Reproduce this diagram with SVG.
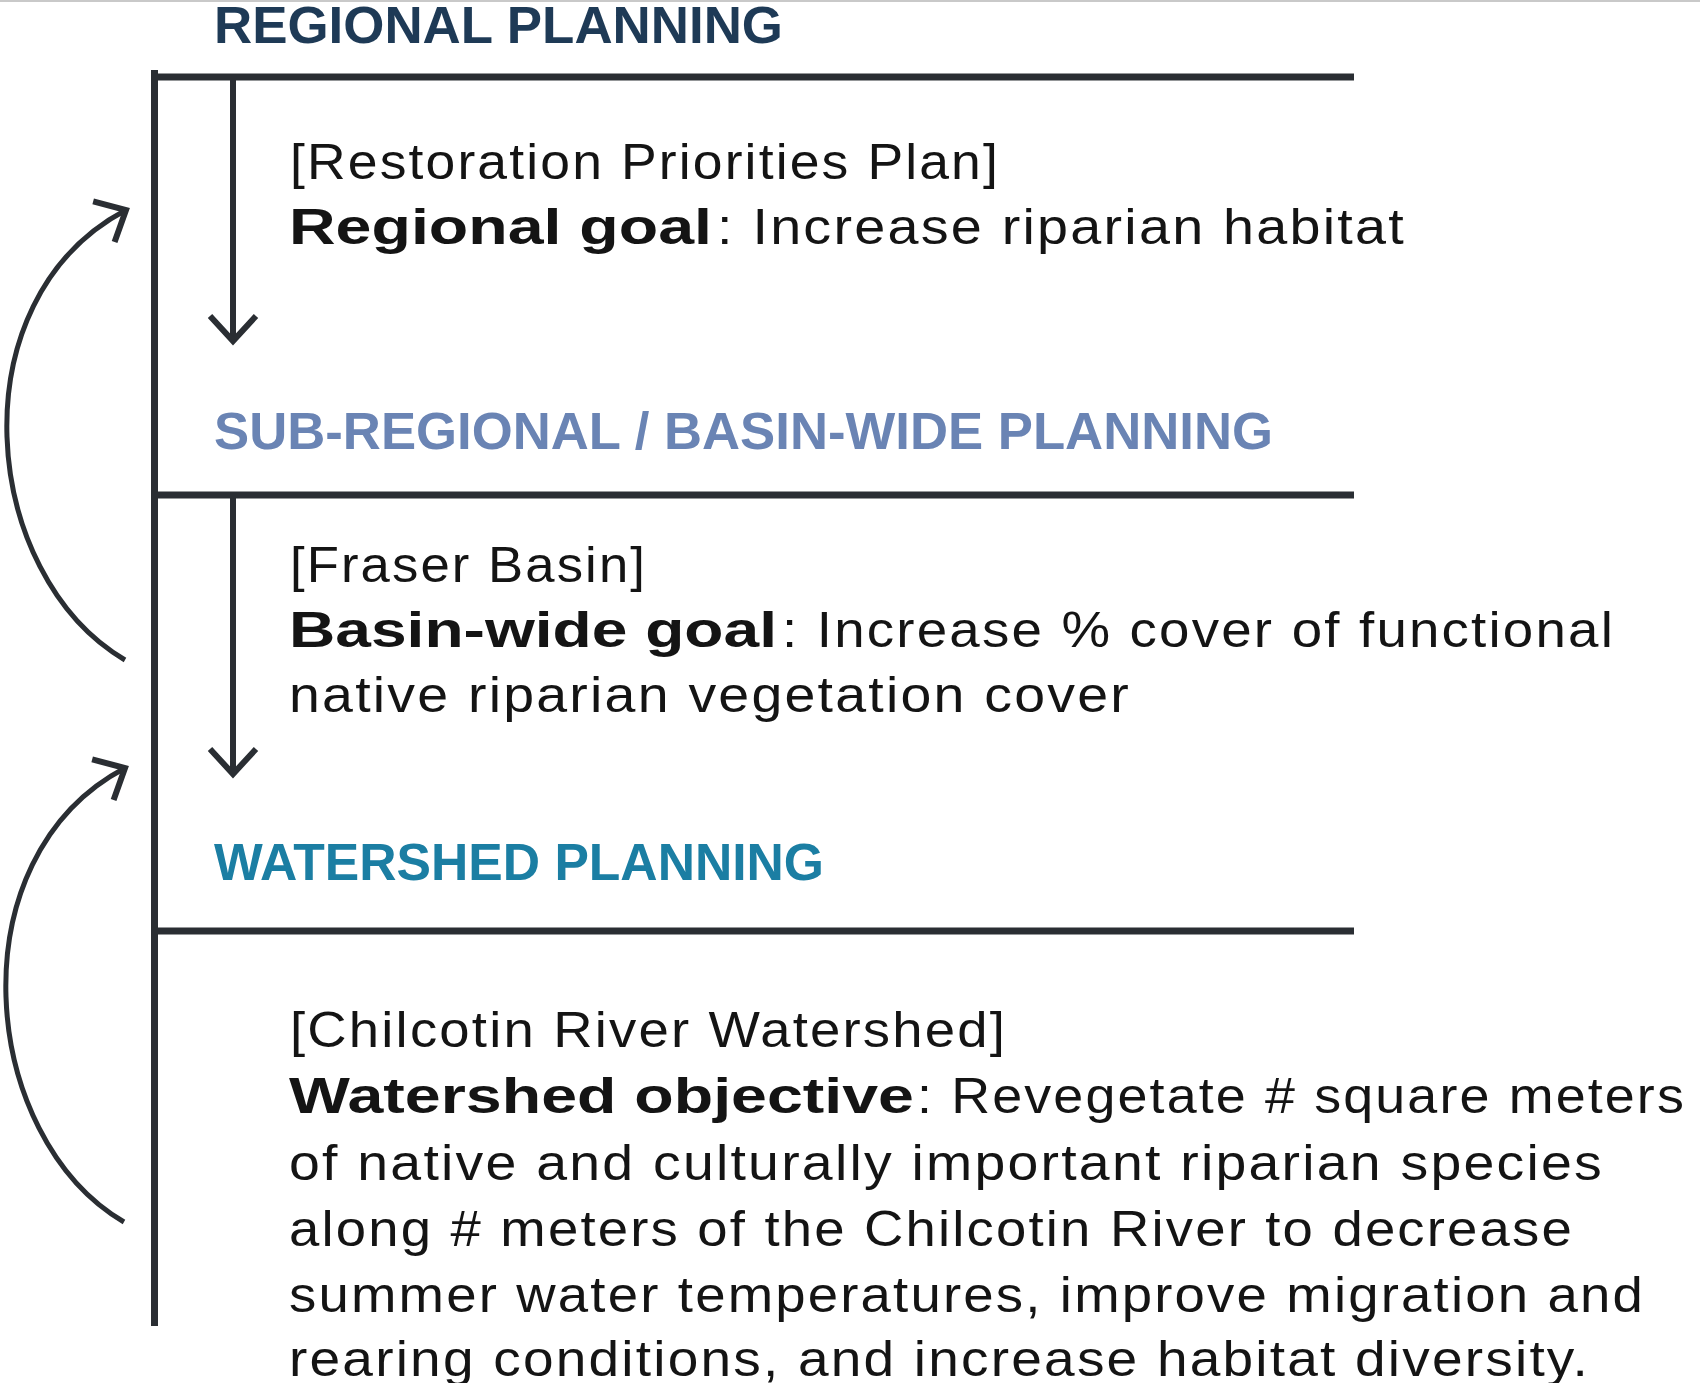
<svg xmlns="http://www.w3.org/2000/svg" width="1700" height="1383" viewBox="0 0 1700 1383">
  <style>
    .hdr { font-family: "Liberation Sans", Arial, sans-serif; font-weight: bold; font-size: 51px; }
    .body { font-family: "Liberation Sans", Arial, sans-serif; font-size: 50px; fill: #141414; letter-spacing: 2px; }
    .b { font-weight: bold; letter-spacing: 0px; }
    .rule { stroke: #2a2e33; stroke-width: 7; fill: none; }
    .conn { stroke: #2a2e33; fill: none; }
  </style>
  <defs>
    <marker id="ah" markerUnits="userSpaceOnUse" markerWidth="60" markerHeight="60" refX="0" refY="0" orient="auto" overflow="visible">
      <path d="M-25,-23 L0,0 L-25,23" fill="none" stroke="#2a2e33" stroke-width="6"/>
    </marker>
  </defs>
  <rect x="0" y="0" width="1700" height="1383" fill="#ffffff"/>
  <rect x="0" y="0" width="1700" height="2" fill="#c9c9c9"/>

  <g id="frame">
    <line class="rule" x1="154.5" y1="70" x2="154.5" y2="1326"/>
    <line class="rule" x1="151" y1="77" x2="1354" y2="77"/>
    <line class="rule" x1="151" y1="495" x2="1354" y2="495"/>
    <line class="rule" x1="151" y1="931" x2="1354" y2="931"/>
  </g>

  <g id="regional">
    <text class="hdr" x="214" y="43" textLength="569" lengthAdjust="spacingAndGlyphs" fill="#1e3a56">REGIONAL PLANNING</text>
    <text class="body" x="290" y="179" textLength="710" lengthAdjust="spacingAndGlyphs">[Restoration Priorities Plan]</text>
    <text class="body b" x="289" y="244" textLength="423" lengthAdjust="spacingAndGlyphs">Regional goal</text>
    <text class="body" x="717" y="244" textLength="689" lengthAdjust="spacingAndGlyphs">: Increase riparian habitat</text>
  </g>

  <g id="subregional">
    <text class="hdr" x="214" y="449" textLength="1059" lengthAdjust="spacingAndGlyphs" fill="#6a84b4">SUB-REGIONAL / BASIN-WIDE PLANNING</text>
    <text class="body" x="290" y="582" textLength="357" lengthAdjust="spacingAndGlyphs">[Fraser Basin]</text>
    <text class="body b" x="289" y="647" textLength="488" lengthAdjust="spacingAndGlyphs">Basin-wide goal</text>
    <text class="body" x="782" y="647" textLength="833" lengthAdjust="spacingAndGlyphs">: Increase % cover of functional</text>
    <text class="body" x="289" y="712" textLength="842" lengthAdjust="spacingAndGlyphs">native riparian vegetation cover</text>
  </g>

  <g id="watershed">
    <text class="hdr" x="214" y="880" textLength="610" lengthAdjust="spacingAndGlyphs" fill="#1b7ea3">WATERSHED PLANNING</text>
    <text class="body" x="290" y="1047" textLength="717" lengthAdjust="spacingAndGlyphs">[Chilcotin River Watershed]</text>
    <text class="body b" x="289" y="1113" textLength="625" lengthAdjust="spacingAndGlyphs">Watershed objective</text>
    <text class="body" x="917" y="1113" textLength="769" lengthAdjust="spacingAndGlyphs">: Revegetate # square meters</text>
    <text class="body" x="289" y="1180" textLength="1315" lengthAdjust="spacingAndGlyphs">of native and culturally important riparian species</text>
    <text class="body" x="289" y="1246" textLength="1285" lengthAdjust="spacingAndGlyphs">along # meters of the Chilcotin River to decrease</text>
    <text class="body" x="289" y="1312" textLength="1356" lengthAdjust="spacingAndGlyphs">summer water temperatures, improve migration and</text>
    <text class="body" x="289" y="1376" textLength="1301" lengthAdjust="spacingAndGlyphs">rearing conditions, and increase habitat diversity.</text>
  </g>

  <g id="connectors">
    <line class="conn" stroke-width="6" x1="233" y1="80" x2="233" y2="341" marker-end="url(#ah)"/>
    <line class="conn" stroke-width="6" x1="233" y1="498" x2="233" y2="774" marker-end="url(#ah)"/>
    <path class="conn" stroke-width="5" d="M125,660 C-20,575 -45,300 126,210" marker-end="url(#ah)"/>
    <path class="conn" stroke-width="5" d="M124,1222 C-21,1137 -46,858 125,768" marker-end="url(#ah)"/>
  </g>
</svg>
